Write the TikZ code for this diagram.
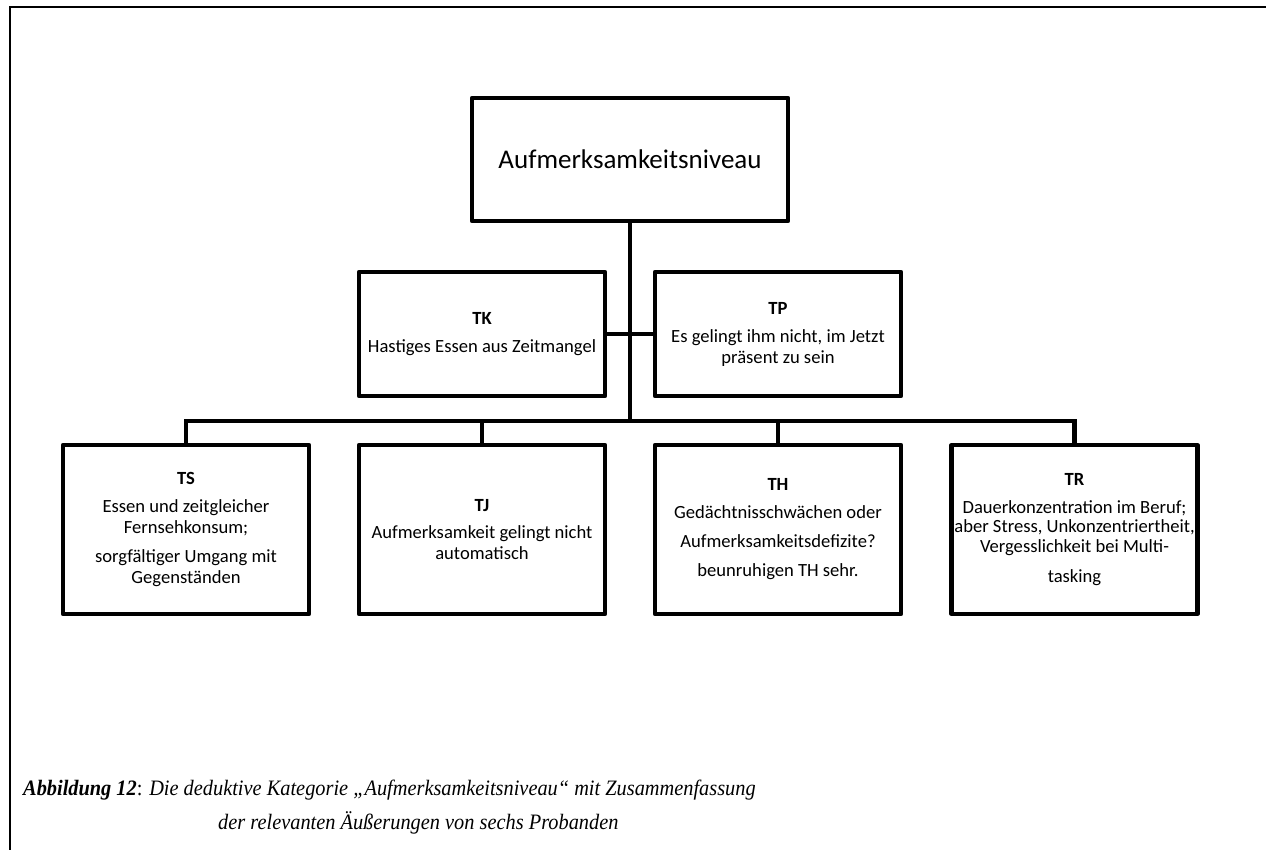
\documentclass[tikz,border=0pt]{standalone}
\usepackage{fontspec}
\setmainfont{Liberation Serif}[FakeStretch=0.925]
\newfontfamily\boxfont{Carlito}

\begin{document}
\begin{tikzpicture}[x=1pt, y=-1pt,
  box/.style={draw, line width=4.2pt, inner sep=0pt, line join=round,
              minimum width=246pt},
  upper/.style={box, minimum height=124pt},
  lower/.style={box, minimum height=169pt},
  lbl/.style={font=\boxfont\fontsize{18.6}{21}\selectfont, align=center, inner sep=0pt},
  wire/.style={line width=4.2pt},
  frameline/.style={line width=2.5pt},
  caption/.style={anchor=base west, inner sep=0pt, font=\fontsize{22}{27}\selectfont}]
\useasboundingbox (0,0) rectangle (1266,850);

% page frame (top and left rule)
\coordinate (fbl) at (10,850);
\coordinate (ftl) at (10,7);
\coordinate (ftr) at (1266,7);
\draw[frameline] (fbl) -- (ftl) -- (ftr);

% category
\node[box, minimum width=316pt, minimum height=123pt] (root) at (630,159.5) {};
\node[font=\boxfont\fontsize{27}{30}\selectfont, inner sep=0pt] (roottxt) at (root.center) {Aufmerksamkeitsniveau};

% second row
\node[upper] (tk) at (482,334) {};
\node[upper] (tp) at (778,334) {};
\node[lbl] (tktxt) at (tk.center) {\textbf{TK}\\[7pt]Hastiges Essen aus Zeitmangel};
\node[lbl] (tptxt) at (tp.center) {\textbf{TP}\\[7pt]Es gelingt ihm nicht, im Jetzt\\präsent zu sein};

% third row
\node[lower] (ts) at (186,529.5) {};
\node[lower] (tj) at (482,529.5) {};
\node[lower] (th) at (778,529.5) {};
\node[lower] (tr) at (1074.5,529.5) {};
\node[lbl] (tstxt) at (ts.center) {\textbf{TS}\\[7pt]Essen und zeitgleicher\\Fernsehkonsum;\\[8pt]sorgfältiger Umgang mit\\Gegenständen};
\node[lbl] (tjtxt) at (tj.center) {\textbf{TJ}\\[6pt]Aufmerksamkeit gelingt nicht\\automatisch};
\node[lbl] (thtxt) at (th.center) {\textbf{TH}\\[7pt]Gedächtnisschwächen oder\\[8pt]Aufmerksamkeitsdefizite?\\[8pt]beunruhigen TH sehr.};
\node[lbl] (trtxt) at (tr.center) {\textbf{TR}\\[7pt]Dauerkonzentration im Beruf;\\[-1.5pt]aber Stress, Unkonzentriertheit,\\[-1.5pt]Vergesslichkeit bei Multi-\\[9pt]tasking};

% connectors
\coordinate (bus) at (630,421);
\draw[wire] (root.south) -- (bus);
\draw[wire] (tk.east) -- (tp.west);
\draw[wire] (bus) -| (ts.north);
\draw[wire] (bus) -| (tj.north);
\draw[wire] (bus) -| (th.north);
\draw[wire] (bus) -| (tr.north);

% caption
\node[caption] (cap1) at (23,795) {\textbf{\textit{Abbildung 12}}: \textit{Die deduktive Kategorie „Aufmerksamkeitsniveau“ mit Zusammenfassung}};
\node[caption] (cap2) at (218,829) {\textit{der relevanten Äußerungen von sechs Probanden}};
\end{tikzpicture}
\end{document}
